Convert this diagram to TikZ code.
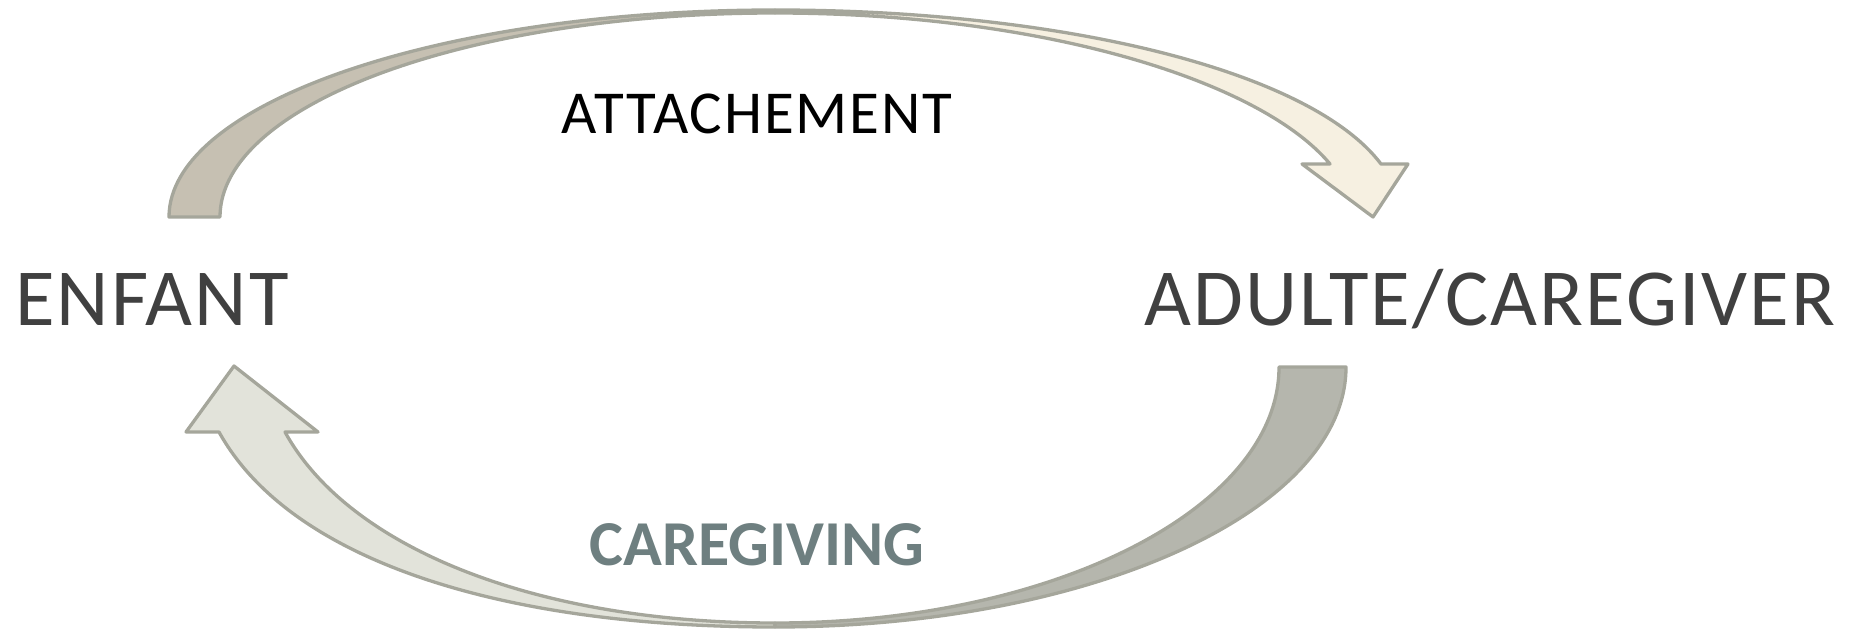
\documentclass[tikz,border=0pt]{standalone}
\usepackage{fontspec}
\setmainfont{Carlito}

\definecolor{edgegray}{HTML}{A5A69B}
\definecolor{topdark}{HTML}{C6C0B2}
\definecolor{toplight}{HTML}{F6F0E1}
\definecolor{botdark}{HTML}{B5B6AD}
\definecolor{botlight}{HTML}{E2E3DA}
\definecolor{labelgray}{HTML}{404040}
\definecolor{slate}{HTML}{6E7F80}

\begin{document}
\begin{tikzpicture}[x=1pt, y=-1pt,
  bigarrow/.style={draw=edgegray, line width=3.3pt, line join=round},
  sidelabel/.style={anchor=base, inner sep=0pt, text=labelgray,
    font=\fontsize{81}{90}\selectfont\addfontfeatures{LetterSpace=2.5}}]

  \useasboundingbox (0,0) rectangle (1855,631);

  % upper arrow: tail under ENFANT, head over ADULTE
  \coordinate (tTailO) at (169,217);
  \coordinate (tTailI) at (220,217);
  \coordinate (tTopO)  at (775,10);
  \coordinate (tTopI)  at (775,13);
  \coordinate (tBaseO) at (1381,164);
  \coordinate (tBaseI) at (1330,164);
  \coordinate (tBarbL) at (1302,164);
  \coordinate (tBarbR) at (1408,164);
  \coordinate (tTip)   at (1373,217);

  \draw[bigarrow, fill=toplight]
    (tTopO) .. controls (1060,10) and (1310,70) .. (tBaseO)
    -- (tBarbR) -- (tTip) -- (tBarbL) -- (tBaseI)
    .. controls (1260,80) and (1040,13) .. (tTopI)
    -- cycle;
  % back part of the band
  \draw[bigarrow, fill=topdark]
    (tTailO) .. controls (169,103) and (440,10) .. (tTopO)
    -- (tTopI)
    .. controls (468,13) and (220,104) .. (tTailI)
    -- cycle;

  % lower arrow: tail under ADULTE, head under ENFANT
  \coordinate (bTailO) at (1346,367);
  \coordinate (bTailI) at (1279,367);
  \coordinate (bBotO)  at (775,627);
  \coordinate (bBotI)  at (775,623);
  \coordinate (bBaseO) at (219,432);
  \coordinate (bBaseI) at (285,432);
  \coordinate (bBarbL) at (186,432);
  \coordinate (bBarbR) at (318,432);
  \coordinate (bTip)   at (234,366);

  \draw[bigarrow, fill=botlight]
    (bBotO) .. controls (500,627) and (290,560) .. (bBaseO)
    -- (bBarbL) -- (bTip) -- (bBarbR) -- (bBaseI)
    .. controls (350,550) and (540,623) .. (bBotI)
    -- cycle;
  % back part of the band
  \draw[bigarrow, fill=botdark]
    (bTailO) .. controls (1346,511) and (1090,627) .. (bBotO)
    -- (bBotI)
    .. controls (1053,623) and (1279,508) .. (bTailI)
    -- cycle;

  % labels
  \node[sidelabel] (enfant) at (152,325) {ENFANT};
  \node[sidelabel] (adulte) at (1490,325) {ADULTE/CAREGIVER};
  \node[anchor=base, inner sep=0pt, text=black,
    font=\fontsize{61}{70}\selectfont\addfontfeatures{LetterSpace=3}] (attach) at (757,134) {ATTACHEMENT};
  \node[anchor=base, inner sep=0pt, text=slate,
    font=\fontsize{64}{72}\selectfont\bfseries] (caregiving) at (757,565) {CAREGIVING};

\end{tikzpicture}
\end{document}
